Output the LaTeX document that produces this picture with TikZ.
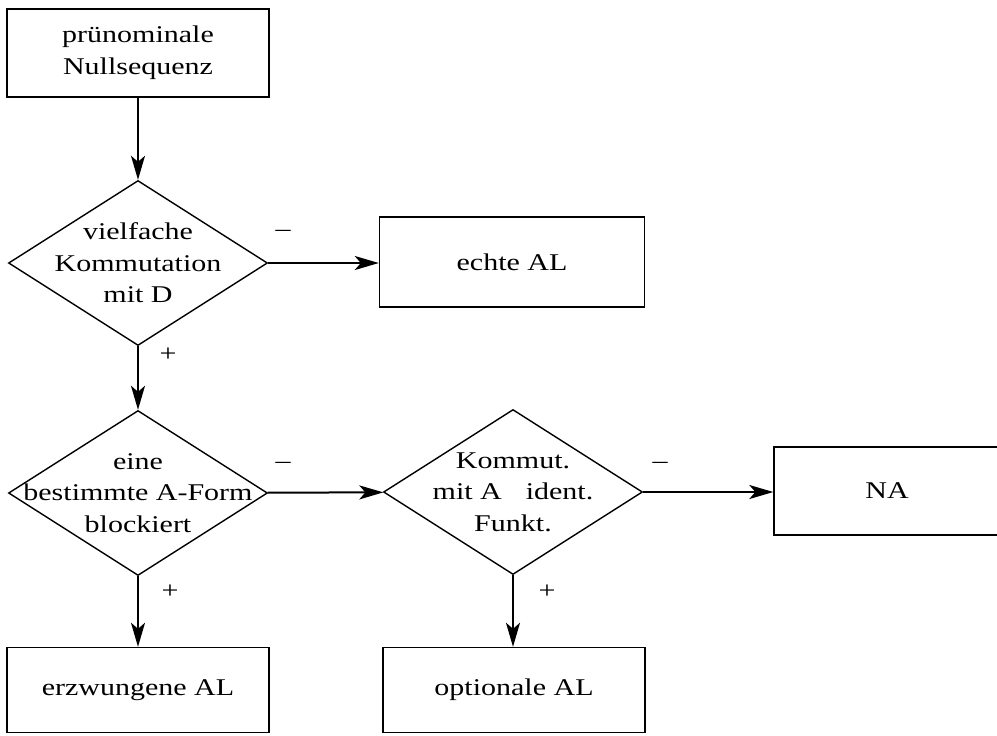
\documentclass[tikz,border=0pt]{standalone}
\usepackage{fontspec}
\setmainfont[FakeStretch=1.25]{Liberation Serif}
\usetikzlibrary{shapes.geometric,arrows.meta}

\tikzset{
  box/.style={draw, line width=0.7pt, minimum width=131pt, minimum height=44pt, align=center, inner sep=0pt},
  decision/.style={draw, diamond, line width=0.7pt, minimum width=129.5pt, minimum height=82.5pt, inner sep=0pt},
  flow/.style={line width=1pt, -{Stealth[length=12pt,width=7pt,inset=3pt]}},
  sign/.style={inner sep=0pt}
}

\begin{document}
\begin{tikzpicture}[x=0.5pt,y=-0.5pt,font=\fontsize{12}{15.8}\selectfont]
    \useasboundingbox (0,0) rectangle (997,735);
    % boxes
    \node[box] (null) at (138,53) {prünominale\\Nullsequenz};
    \node[box, minimum width=132.5pt, minimum height=45pt] (echt) at (512,262) {echte AL};
    \node[box, minimum width=113pt] (na) at (887,491) {NA};
    \node[box, minimum height=42.5pt] (erzw) at (138,690) {erzwungene AL};
    \node[box, minimum height=42.5pt] (opt) at (514,690) {optionale AL};
    % tests
    \node[decision, label={[align=center]center:vielfache\\Kommutation\\mit D}] (komm) at (138,263) {};
    \node[decision, label={[align=center]center:eine\\bestimmte A-Form\\blockiert}] (block) at (138,493) {};
    \node[decision, label={[align=center]center:Kommut.\\mit A\hspace{1em}ident.\\Funkt.}] (ident) at (513,492) {};
    % arrows
    \draw[flow] (null) -- (komm);
    \draw[flow] (komm.east) -- (komm.east -| echt.west);
    \draw[flow] (komm) -- (block);
    \draw[flow] (block) -- (ident);
    \draw[flow] (ident.east) -- (ident.east -| na.west);
    \draw[flow] (block) -- (erzw);
    \draw[flow] (ident.south) -- (ident.south |- opt.north);
    % signs
    \node[sign] (m1) at (283,233) {–};
    \node[sign] (m2) at (283,465) {–};
    \node[sign] (m3) at (660,465) {–};
    \node[sign] (p1) at (168,355) {+};
    \node[sign] (p2) at (170,592) {+};
    \node[sign] (p3) at (547,592) {+};
\end{tikzpicture}
\end{document}
